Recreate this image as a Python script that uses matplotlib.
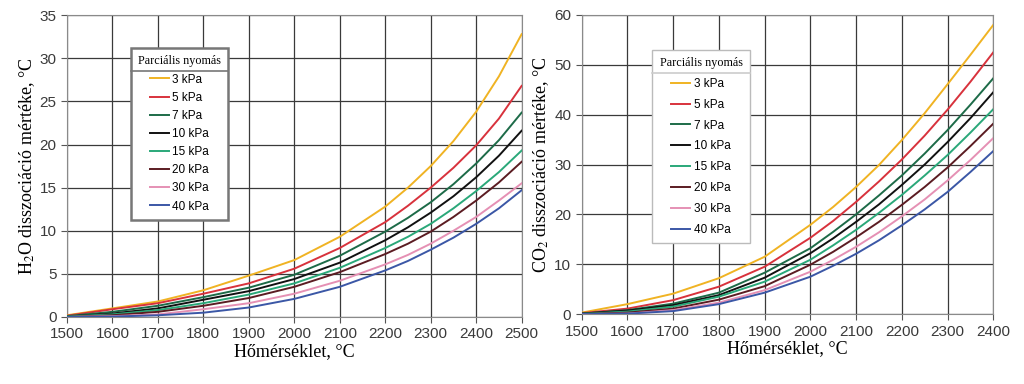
import matplotlib.pyplot as plt
from matplotlib.lines import Line2D

plt.rcParams['mathtext.fontset'] = 'stix'

# adatok (leolvasva a grafikonrol)
nyomasok = ['3 kPa', '5 kPa', '7 kPa', '10 kPa', '15 kPa', '20 kPa', '30 kPa', '40 kPa']
szinek = ['#f0b323', '#d8323c', '#1d6b48', '#111111', '#2aa879', '#5b1c22', '#e590b4', '#3b57a6']

T_h2o = [1500, 1600, 1700, 1800, 1900, 2000, 2100, 2200, 2250, 2300, 2350, 2400, 2450, 2500]
h2o_3 = [0.2, 1.0, 1.8, 3.1, 4.8, 6.6, 9.3, 12.8, 15.0, 17.5, 20.4, 23.8, 27.9, 32.8]
h2o_5 = [0.15, 0.9, 1.6, 2.7, 3.9, 5.6, 8.0, 11.0, 12.9, 15.0, 17.3, 19.9, 23.0, 26.8]
h2o_7 = [0.1, 0.6, 1.3, 2.3, 3.4, 4.9, 7.1, 9.9, 11.5, 13.3, 15.4, 17.8, 20.5, 23.7]
h2o_10 = [0.05, 0.4, 1.0, 2.0, 3.0, 4.4, 6.3, 8.9, 10.4, 12.1, 14.0, 16.2, 18.7, 21.6]
h2o_15 = [0.05, 0.3, 0.8, 1.6, 2.6, 3.9, 5.7, 8.0, 9.3, 10.8, 12.6, 14.6, 16.8, 19.3]
h2o_20 = [0.0, 0.2, 0.6, 1.3, 2.2, 3.5, 5.2, 7.3, 8.5, 9.9, 11.6, 13.5, 15.6, 18.0]
h2o_30 = [0.0, 0.1, 0.3, 0.9, 1.6, 2.7, 4.2, 6.1, 7.2, 8.5, 10.0, 11.6, 13.5, 15.5]
h2o_40 = [0.0, 0.05, 0.2, 0.5, 1.1, 2.1, 3.5, 5.4, 6.5, 7.8, 9.2, 10.8, 12.6, 14.7]

T_co2 = [1500, 1600, 1700, 1800, 1900, 2000, 2050, 2100, 2150, 2200, 2250, 2300, 2350, 2400]
co2_3 = [0.3, 2.0, 4.1, 7.2, 11.5, 17.9, 21.5, 25.5, 29.9, 34.9, 40.3, 46.1, 52.0, 58.0]
co2_5 = [0.2, 1.1, 2.8, 5.5, 9.5, 15.3, 18.7, 22.5, 26.6, 31.0, 35.8, 41.0, 46.6, 52.5]
co2_7 = [0.1, 0.8, 2.1, 4.3, 8.3, 13.2, 16.5, 20.0, 23.8, 27.8, 32.2, 36.9, 42.0, 47.3]
co2_10 = [0.1, 0.7, 1.8, 3.8, 7.3, 12.2, 15.2, 18.5, 22.0, 25.9, 30.0, 34.5, 39.3, 44.5]
co2_15 = [0.05, 0.5, 1.5, 3.5, 6.5, 10.9, 13.8, 16.9, 20.3, 23.9, 27.8, 31.9, 36.4, 41.1]
co2_20 = [0.0, 0.3, 1.1, 2.9, 5.6, 9.9, 12.5, 15.4, 18.5, 21.9, 25.5, 29.4, 33.7, 38.2]
co2_30 = [0.0, 0.1, 0.8, 2.3, 4.8, 8.5, 10.9, 13.5, 16.4, 19.6, 23.0, 26.8, 30.9, 35.3]
co2_40 = [0.0, 0.1, 0.6, 2.0, 4.3, 7.5, 9.7, 12.1, 14.8, 17.8, 21.0, 24.5, 28.5, 32.7]


def rajzol(ax, T, sorok, xmax, ymax, ylabel, leg_xy, spacing, keret):
    for y, szin, nev in zip(sorok, szinek, nyomasok):
        ax.plot(T, y, color=szin, lw=1.4, label=nev, zorder=3)
    ax.set_xlim(1500, xmax)
    ax.set_ylim(0, ymax)
    ax.set_xticks(range(1500, xmax + 1, 100))
    ax.set_yticks(range(0, ymax + 1, 5 if ymax < 40 else 10))
    ax.grid(True, color='#3a3a3a', lw=0.9)
    for s in ax.spines.values():
        s.set_color('#8a8a8a')
    ax.tick_params(labelsize=11, labelcolor='#3a3a3a', color='#555555', length=4)
    for t in ax.get_xticklabels() + ax.get_yticklabels():
        t.set_family('Liberation Sans')
    ax.set_xlabel('Hőmérséklet, °C', family='Liberation Serif', fontsize=13, labelpad=1)
    ax.set_ylabel(ylabel, family='Liberation Serif', fontsize=13, labelpad=2)
    leg = ax.legend(loc='upper left', bbox_to_anchor=leg_xy, title='Parciális nyomás',
                    fancybox=False, framealpha=1, edgecolor=keret[0], handlelength=1.6,
                    handletextpad=0.3, labelspacing=spacing, borderaxespad=0,
                    borderpad=0.6, prop={'family': 'Liberation Sans', 'size': 8.5},
                    title_fontproperties={'family': 'Liberation Serif', 'size': 8.7})
    leg.get_frame().set_linewidth(keret[1])
    return leg


fig = plt.figure(figsize=(10.24, 3.84), dpi=100)
ax1 = fig.add_axes([0.0654, 0.1745, 0.444, 0.786])
ax2 = fig.add_axes([0.568, 0.182, 0.402, 0.779])

leg1 = rajzol(ax1, T_h2o, [h2o_3, h2o_5, h2o_7, h2o_10, h2o_15, h2o_20, h2o_30, h2o_40],
              2500, 35, 'H$_2$O disszociáció mértéke, °C', (0.14, 0.89), 0.52, ('#777777', 1.8))
leg2 = rajzol(ax2, T_co2, [co2_3, co2_5, co2_7, co2_10, co2_15, co2_20, co2_30, co2_40],
              2400, 60, 'CO$_2$ disszociáció mértéke, °C', (0.172, 0.883), 0.75, ('#bbbbbb', 1.0))

# vonal a cim alatt a jelmagyarazatban
fig.canvas.draw()
r = fig.canvas.get_renderer()
for leg, szin in ((leg1, '#777777'), (leg2, '#cccccc')):
    fb = leg.get_frame().get_window_extent(r)
    tb = leg.get_title().get_window_extent(r)
    yv = (tb.y0 - 4) / fig.bbox.height
    fig.add_artist(Line2D([fb.x0 / fig.bbox.width, fb.x1 / fig.bbox.width], [yv, yv],
                          color=szin, lw=1.2, zorder=10))

plt.savefig('out.png', dpi=100)
